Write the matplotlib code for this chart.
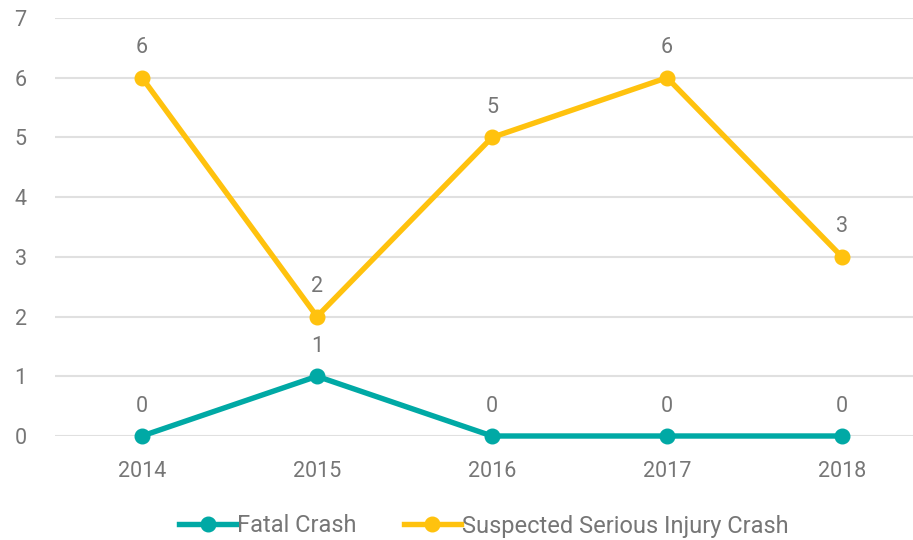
import matplotlib.pyplot as plt

years = ["2014", "2015", "2016", "2017", "2018"]
fatal = [0, 1, 0, 0, 0]
serious = [6, 2, 5, 6, 3]

TEAL = "#00a9a5"
YELLOW = "#ffc20e"
GREY = "#767676"

plt.rcParams["font.family"] = ["Roboto", "DejaVu Sans"]

fig = plt.figure(figsize=(9.13, 5.4), dpi=100)
ax = fig.add_axes([54.5 / 913, 104 / 540, 875 / 913, 418 / 540])

x = range(len(years))
ax.plot(x, fatal, color=TEAL, lw=3.9, marker="o", ms=10.5, label="Fatal Crash", clip_on=False, zorder=3)
ax.plot(x, serious, color=YELLOW, lw=3.9, marker="o", ms=10.5,
        label="Suspected Serious Injury Crash", clip_on=False, zorder=3)

# value labels above each point
for series in (fatal, serious):
    for xi, v in zip(x, series):
        ax.annotate(str(v), (xi, v), xytext=(0, 14), textcoords="offset points",
                    ha="center", va="bottom", fontsize=15.5, color=GREY)

ax.set_xlim(-0.5, 4.5)
ax.set_ylim(0, 7)
ax.set_xticks(list(x))
ax.set_xticklabels(years)
ax.set_yticks(range(8))
ax.grid(axis="y", color="#e0e0e0", lw=1.5)
ax.set_axisbelow(True)
for s in ax.spines.values():
    s.set_visible(False)
ax.tick_params(length=0, labelsize=15.5, colors=GREY)
ax.tick_params(axis="x", pad=18)
ax.tick_params(axis="y", pad=20)

fig.legend(loc="center", bbox_to_anchor=(484 / 913, 1 - 526 / 540), ncol=2, frameon=False,
           fontsize=17, labelcolor=GREY, handlelength=2.4, handletextpad=0.05, columnspacing=2.0)

fig.savefig("out.png", dpi=100)
